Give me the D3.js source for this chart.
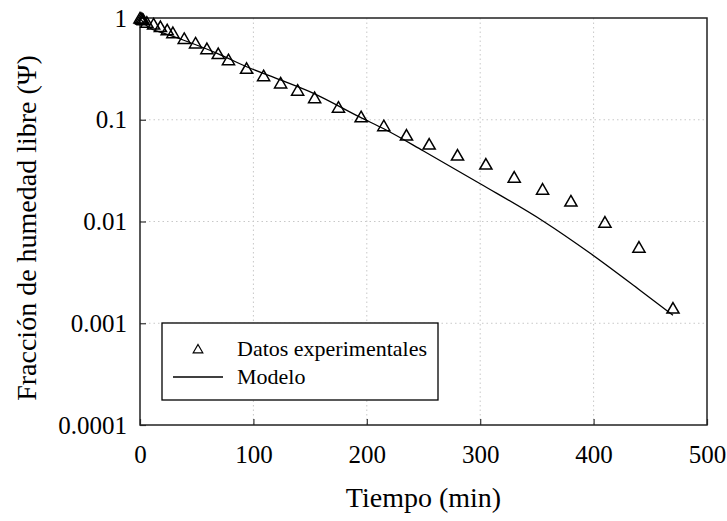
<!DOCTYPE html>
<html>
<head>
<meta charset="utf-8">
<script src="https://cdn.jsdelivr.net/npm/d3@7"></script>
<style>
  body { margin: 0; background: #fff; }
  text { font-family: "Liberation Serif", "Times New Roman", serif; fill: #000; }
  .grid line { stroke: #c8c8c8; stroke-dasharray: 1.5,3; }
</style>
</head>
<body>
<script>
// Experimental points (time in min, free moisture fraction)
var expTime = [0, 1, 2, 3, 6, 12, 18, 24, 29, 39, 49, 59, 69, 78, 94, 109, 124, 139, 154,
               175, 195, 215, 235, 255, 280, 305, 330, 355, 380, 410, 440, 470];
var expPsi  = [1, 0.99, 0.975, 0.96, 0.91, 0.873, 0.823, 0.766, 0.718, 0.63, 0.569, 0.50, 0.447, 0.389,
               0.32, 0.271, 0.23, 0.195, 0.165, 0.133, 0.107, 0.0875, 0.0707, 0.0577, 0.045,
               0.0367, 0.0273, 0.0208, 0.0159, 0.00986, 0.0056, 0.00141];

// Model curve
var modTime = [0, 2, 5, 9, 20, 38, 68, 94, 124, 153, 194, 215, 250, 300, 356, 397, 440, 470];
var modPsi  = [1, 0.93, 0.86, 0.792, 0.715, 0.608, 0.45, 0.332, 0.246, 0.182, 0.106, 0.0815,
               0.0493, 0.0235, 0.01, 0.00487, 0.00215, 0.0012];

var xTicks = [0, 100, 200, 300, 400, 500];
var yTicks = [1, 0.1, 0.01, 0.001, 0.0001];

drawChart();

function drawChart() {
    var width = 727, height = 521;
    var mLeft = 140, mRight = 707, mTop = 18, mBottom = 425;

    var svg = d3.select("body").append("svg")
        .attr("width", width)
        .attr("height", height);

    var x = d3.scaleLinear().domain([0, 500]).range([mLeft, mRight]);
    var y = d3.scaleLog().domain([0.0001, 1]).range([mBottom, mTop]);

    // grid lines
    var grid = svg.append("g").attr("class", "grid");
    grid.selectAll(".vg")
        .data(xTicks.slice(1, -1))
        .enter().append("line")
        .attr("x1", d => x(d)).attr("x2", d => x(d))
        .attr("y1", mTop).attr("y2", mBottom);
    grid.selectAll(".hg")
        .data(yTicks.slice(1, -1))
        .enter().append("line")
        .attr("x1", mLeft).attr("x2", mRight)
        .attr("y1", d => y(d)).attr("y2", d => y(d));

    // axes (inward ticks)
    var xAxis = d3.axisBottom(x).tickValues(xTicks).tickSizeInner(-6).tickSizeOuter(0).tickPadding(20)
        .tickFormat(d3.format("d"));
    var yAxis = d3.axisLeft(y).tickValues(yTicks).tickSizeInner(-6).tickSizeOuter(0).tickPadding(13)
        .tickFormat(d => String(d));

    var gx = svg.append("g").attr("transform", "translate(0," + mBottom + ")").call(xAxis);
    var gy = svg.append("g").attr("transform", "translate(" + mLeft + ",0)").call(yAxis);
    [gx, gy].forEach(function(g) {
        g.attr("font-family", null);
        g.select(".domain").remove();
        g.selectAll(".tick line").attr("stroke", "#333").attr("stroke-width", 1.2);
        g.selectAll(".tick text").style("font-size", "25px");
    });

    // frame
    svg.append("rect")
        .attr("x", mLeft).attr("y", mTop)
        .attr("width", mRight - mLeft).attr("height", mBottom - mTop)
        .attr("fill", "none").attr("stroke", "#222").attr("stroke-width", 1.5);

    // model line
    var line = d3.line().curve(d3.curveMonotoneX).x(d => x(d[0])).y(d => y(d[1]));
    svg.append("path")
        .datum(modTime.map((t, i) => [t, modPsi[i]]))
        .attr("d", line)
        .attr("fill", "none").attr("stroke", "#000").attr("stroke-width", 1.3);

    // experimental triangles
    var tri = d3.symbol().type(d3.symbolTriangle).size(64);
    svg.selectAll(".pt")
        .data(expTime.map((t, i) => [t, expPsi[i]]))
        .enter().append("path")
        .attr("d", tri)
        .attr("transform", d => "translate(" + x(d[0]) + "," + (y(d[1]) + 1.5) + ")")
        .attr("fill", "none").attr("stroke", "#000").attr("stroke-width", 1.5);

    // axis titles
    svg.append("text")
        .attr("x", (mLeft + mRight) / 2).attr("y", 507)
        .attr("text-anchor", "middle")
        .style("font-size", "28px")
        .text("Tiempo (min)");
    svg.append("text")
        .attr("transform", "translate(36,228) rotate(-90)")
        .attr("text-anchor", "middle")
        .style("font-size", "28px")
        .text("Fracción de humedad libre (Ψ)");

    // legend
    var lg = svg.append("g");
    lg.append("rect")
        .attr("x", 162).attr("y", 323).attr("width", 276).attr("height", 77)
        .attr("fill", "#fff").attr("stroke", "#000").attr("stroke-width", 1.3);
    lg.append("path")
        .attr("d", d3.symbol().type(d3.symbolTriangle).size(40))
        .attr("transform", "translate(198,350)")
        .attr("fill", "none").attr("stroke", "#000").attr("stroke-width", 1.2);
    lg.append("line")
        .attr("x1", 173).attr("x2", 223).attr("y1", 377).attr("y2", 377)
        .attr("stroke", "#000").attr("stroke-width", 1.3);
    lg.append("text").attr("x", 237).attr("y", 356).style("font-size", "22px").text("Datos experimentales");
    lg.append("text").attr("x", 237).attr("y", 384).style("font-size", "22px").text("Modelo");
}
</script>
</body>
</html>
